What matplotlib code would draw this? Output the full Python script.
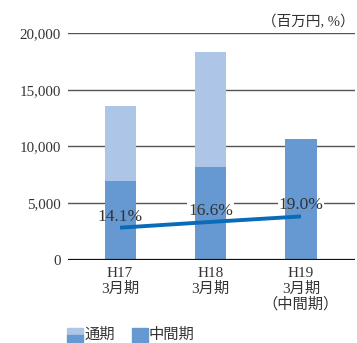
import matplotlib.pyplot as plt
from matplotlib.patches import Rectangle

# datos (百万円, %)
periodos = ["H17\n3月期", "H18\n3月期", "H19\n3月期\n（中間期）"]
tsuuki = [13570, 18330, None]        # 通期
chuukanki = [6960, 8190, 10660]      # 中間期
ratio = [14.1, 16.6, 19.0]           # %
yticks = [0, 5000, 10000, 15000, 20000]

c_light = "#adc6e8"
c_dark = "#6699d1"
c_line = "#0a6cb8"
serif = ["Liberation Serif", "Noto Sans CJK JP"]

fig = plt.figure(figsize=(3.57, 3.43), dpi=100)
ax = fig.add_axes([68 / 357, 83 / 343, 287 / 357, 227 / 343])

x = list(range(len(periodos)))
w = 0.343
for i in x:
    if tsuuki[i] is not None:
        ax.bar(i, tsuuki[i], width=w, color=c_light, zorder=3)
    ax.bar(i, chuukanki[i], width=w, color=c_dark, zorder=3)

ax.set_xlim(-0.575, 2.597)
ax.set_ylim(0, 20000)
for v in yticks[1:]:
    ax.axhline(v, color="#555555", lw=1.0, zorder=1)
ax.axhline(0, color="#111111", lw=1.6, zorder=4)

for s in ax.spines.values():
    s.set_visible(False)
ax.set_yticks(yticks)
ax.set_yticklabels([f"{v:,}" for v in yticks], family=serif, fontsize=10.8, color="#333333")
ax.tick_params(axis="y", length=0, pad=5)
ax.set_xticks(x)
ax.set_xticklabels(periodos, family=serif, fontsize=11, color="#333333", linespacing=1.15)
ax.tick_params(axis="x", length=0, pad=5)

# escala secundaria para el % (oculta), dibujada dentro de ax
ax2 = ax.twinx()
ax2.set_ylim(0, 99)
ax2.axis("off")
ax.plot(x, ratio, color=c_line, lw=2.8, solid_capstyle="butt", zorder=5, transform=ax2.transData)
for i, r in zip(x, ratio):
    # fondo blanco que corta la grilla pero queda detrás de las barras
    ax.annotate(f"{r}%", (i, r), xycoords=ax2.transData, xytext=(0, 11), textcoords="offset pixels",
                ha="center", va="center", family=serif, fontsize=12.5, color="none",
                bbox=dict(boxstyle="square,pad=0.05", fc="white", ec="none"), zorder=2)
    ax.annotate(f"{r}%", (i, r), xycoords=ax2.transData, xytext=(0, 11), textcoords="offset pixels",
                ha="center", va="center", family=serif, fontsize=12.5, color="#333333", zorder=6)

fig.text(355 / 357, 1 - 22 / 343, "（百万円, %）", ha="right", va="center",
         family=serif, fontsize=10.5, color="#333333")

# leyenda
pw, ph = 16 / 357, 14 / 343
y0 = 1 - 342 / 343
fig.add_artist(Rectangle((67 / 357, y0 + ph / 2), pw, ph / 2, color=c_light, transform=fig.transFigure))
fig.add_artist(Rectangle((67 / 357, y0), pw, ph / 2, color=c_dark, transform=fig.transFigure))
fig.add_artist(Rectangle((132 / 357, y0), pw, ph, color=c_dark, transform=fig.transFigure))
fig.text(85 / 357, y0 + ph / 2, "通期", ha="left", va="center", family=serif, fontsize=11, color="#333333")
fig.text(149 / 357, y0 + ph / 2, "中間期", ha="left", va="center", family=serif, fontsize=11, color="#333333")

fig.savefig("out.png", dpi=100)
